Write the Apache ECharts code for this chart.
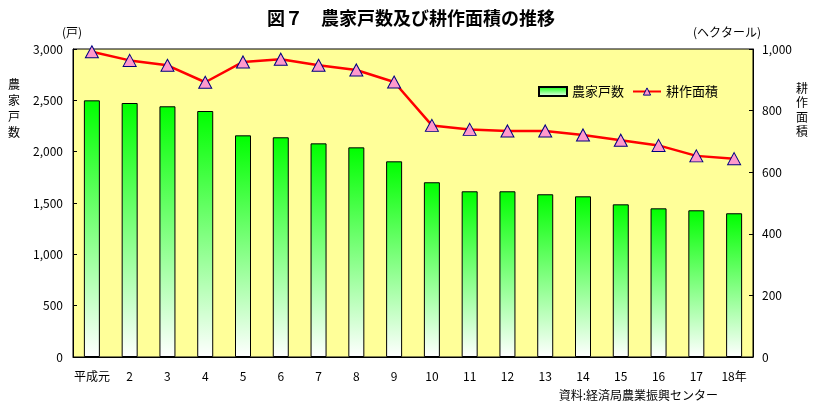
<!DOCTYPE html>
<html><head><meta charset="utf-8">
<script src="https://cdn.jsdelivr.net/npm/echarts@6/dist/echarts.min.js"></script>
<style>html,body{margin:0;padding:0;background:#fff}#c{width:827px;height:412px}</style>
</head><body><div id="c"></div>
<script>
const categories = ['平成元','2','3','4','5','6','7','8','9','10','11','12','13','14','15','16','17','18年'];
const households = [2500,2474,2442,2396,2159,2140,2081,2042,1906,1702,1614,1614,1585,1565,1487,1448,1429,1400];
const farmArea = [991,963,947,892,958,967,947,932,893,752,739,734,734,721,704,687,653,644];
const seriesNames = ['農家戸数','耕作面積'];

const F = '"Noto Sans CJK JP","Noto Sans",sans-serif';
const chart = echarts.init(document.getElementById('c'));
const fmt = v => v.toString().replace(/\B(?=(\d{3})+(?!\d))/g, ',');
const markerStyle = { color: '#ff99cc', borderColor: '#000080', borderWidth: 1 };
chart.setOption({
  animation: false,
  backgroundColor: '#ffffff',
  textStyle: { fontFamily: F, color: '#000' },
  title: {
    text: '図７　農家戸数及び耕作面積の推移',
    left: 262, top: 4,
    textStyle: { fontFamily: F, fontSize: 18, fontWeight: 'bold', color: '#000' }
  },
  legend: {
    left: 533, top: 80,
    itemWidth: 28, itemHeight: 9, itemGap: 8,
    textStyle: { fontFamily: F, fontSize: 13, color: '#000' },
    data: [{ name: seriesNames[0], icon: 'rect' }, { name: seriesNames[1], itemStyle: markerStyle }]
  },
  grid: {
    left: 73, right: 74, top: 49, bottom: 55,
    show: true, backgroundColor: '#ffff99', borderColor: '#000', borderWidth: 1
  },
  xAxis: {
    type: 'category', data: categories, boundaryGap: true,
    axisLine: { lineStyle: { color: '#000', width: 1 } },
    axisTick: { inside: true, length: 4, lineStyle: { color: '#000' } },
    axisLabel: { color: '#000', fontSize: 12, margin: 13, interval: 0, fontFamily: F }
  },
  yAxis: [{
    type: 'value', min: 0, max: 3000, interval: 500,
    axisLine: { show: true, lineStyle: { color: '#000' } },
    axisTick: { show: true, inside: true, length: 4, lineStyle: { color: '#000' } },
    splitLine: { show: false },
    axisLabel: { color: '#000', fontSize: 12, margin: 10, formatter: fmt, fontFamily: F }
  }, {
    type: 'value', min: 0, max: 1000, interval: 200,
    axisLine: { show: true, lineStyle: { color: '#000' } },
    axisTick: { show: true, inside: true, length: 4, lineStyle: { color: '#000' } },
    splitLine: { show: false },
    axisLabel: { color: '#000', fontSize: 12, margin: 9, formatter: fmt, fontFamily: F }
  }],
  series: [{
    name: seriesNames[0], type: 'bar', data: households, barWidth: 16,
    itemStyle: {
      borderColor: '#000', borderWidth: 1,
      color: new echarts.graphic.LinearGradient(0, 0, 0, 1, [
        { offset: 0, color: '#00ff00' },
        { offset: 1, color: '#ffffff' }
      ])
    }
  }, {
    name: seriesNames[1], type: 'line', yAxisIndex: 1, data: farmArea,
    symbol: 'triangle', symbolSize: [13, 12],
    lineStyle: { color: '#ff0000', width: 2.5 },
    itemStyle: markerStyle,
    z: 5
  }],
  graphic: [
    { type: 'text', left: 62, top: 26, style: { text: '(戸)', font: '12px ' + F, fill: '#000' } },
    { type: 'text', left: 693, top: 26, style: { text: '(ヘクタール)', font: '12px ' + F, fill: '#000' } },
    { type: 'text', left: 8, top: 76, style: { text: '農\n家\n戸\n数', font: '12px ' + F, lineHeight: 16, fill: '#000' } },
    { type: 'text', left: 796, top: 81, style: { text: '耕\n作\n面\n積', font: '12px ' + F, lineHeight: 14.5, fill: '#000' } },
    { type: 'text', right: 109, top: 389, style: { text: '資料:経済局農業振興センター', font: '12px ' + F, fill: '#000' } }
  ]
});
</script></body></html>
